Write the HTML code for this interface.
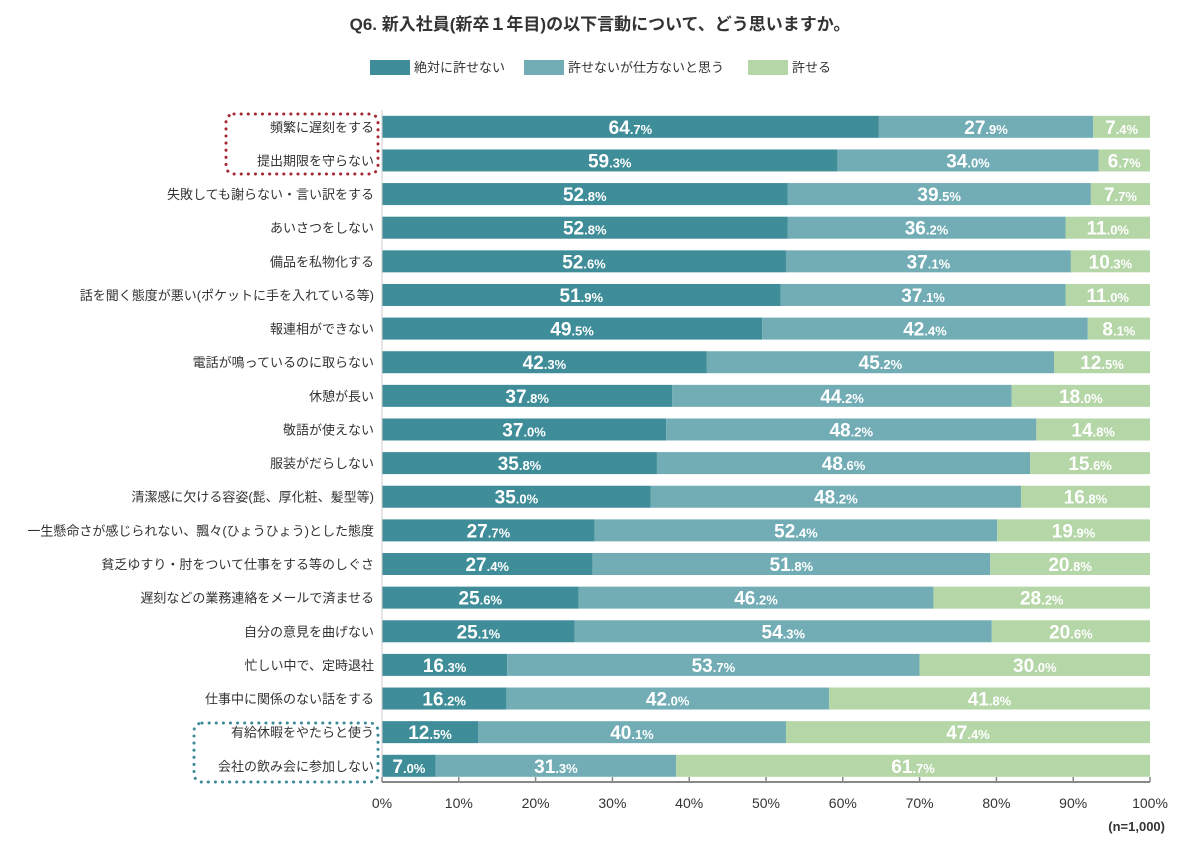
<!DOCTYPE html>
<html><head><meta charset="utf-8"><style>
body{margin:0;background:#fff;font-family:"Liberation Sans","Noto Sans CJK JP",sans-serif;}
svg text{font-family:"Liberation Sans","Noto Sans CJK JP",sans-serif;}
</style></head><body>
<svg id="chart" width="1200" height="850">
<text x="600" y="30" text-anchor="middle" font-size="17" font-weight="bold" fill="#333">Q6. 新入社員(新卒１年目)の以下言動について、どう思いますか。</text>
<g>
<rect x="370" y="60" width="40" height="15" fill="#3f8d99"/>
<text x="414" y="72" font-size="13" fill="#333">絶対に許せない</text>
<rect x="524" y="60" width="40" height="15" fill="#72adb6"/>
<text x="568" y="72" font-size="13" fill="#333">許せないが仕方ないと思う</text>
<rect x="748" y="60" width="40" height="15" fill="#b5d6a7"/>
<text x="792" y="72" font-size="13" fill="#333">許せる</text>
</g>
<rect x="226" y="114" width="152" height="60" rx="8" fill="none" stroke="#a3282f" stroke-width="3" stroke-dasharray="0.1 7" stroke-linecap="round"/>
<rect x="194" y="723" width="184" height="59" rx="8" fill="none" stroke="#3a8a98" stroke-width="3" stroke-dasharray="0.1 7" stroke-linecap="round"/>
<g id="plot"></g>
<text x="1165" y="831" text-anchor="end" font-size="13" font-weight="bold" fill="#333">(n=1,000)</text>
</svg>
<script>
const categories=["頻繁に遅刻をする","提出期限を守らない","失敗しても謝らない・言い訳をする","あいさつをしない","備品を私物化する","話を聞く態度が悪い(ポケットに手を入れている等)","報連相ができない","電話が鳴っているのに取らない","休憩が長い","敬語が使えない","服装がだらしない","清潔感に欠ける容姿(髭、厚化粧、髪型等)","一生懸命さが感じられない、飄々(ひょうひょう)とした態度","貧乏ゆすり・肘をついて仕事をする等のしぐさ","遅刻などの業務連絡をメールで済ませる","自分の意見を曲げない","忙しい中で、定時退社","仕事中に関係のない話をする","有給休暇をやたらと使う","会社の飲み会に参加しない"];
const neverVals=[64.7,59.3,52.8,52.8,52.6,51.9,49.5,42.3,37.8,37.0,35.8,35.0,27.7,27.4,25.6,25.1,16.3,16.2,12.5,7.0];
const unavoidableVals=[27.9,34.0,39.5,36.2,37.1,37.1,42.4,45.2,44.2,48.2,48.6,48.2,52.4,51.8,46.2,54.3,53.7,42.0,40.1,31.3];
const okVals=[7.4,6.7,7.7,11.0,10.3,11.0,8.1,12.5,18.0,14.8,15.6,16.8,19.9,20.8,28.2,20.6,30.0,41.8,47.4,61.7];
const tickLabels=["0%","10%","20%","30%","40%","50%","60%","70%","80%","90%","100%"];
const tickValues=[0,10,20,30,40,50,60,70,80,90,100];
const NS="http://www.w3.org/2000/svg";
const g=document.getElementById('plot');
const x0=382,x1=1150,yTop=110,pitch=33.63,bh=22,axisY=782;
const xs=v=>x0+(x1-x0)*v/100;
const ys=i=>yTop+pitch*i+(pitch-bh)/2;
function mk(t,a){const e=document.createElementNS(NS,t);for(const k in a)e.setAttribute(k,a[k]);g.appendChild(e);return e;}
const series=[[neverVals,"#3f8d99","never"],[unavoidableVals,"#72adb6","unavoidable"],[okVals,"#b5d6a7","ok"]];
categories.forEach((c,i)=>{
  const y=ys(i);
  const t=mk('text',{x:374,y:y+bh/2+5,'text-anchor':'end','font-size':13,fill:'#333'});
  t.textContent=c;
  
  
  let acc=0;
  series.forEach(([arr,col,nm])=>{
    const v=arr[i];
    const r=mk('rect',{x:xs(acc),y:y,width:xs(acc+v)-xs(acc),height:bh,fill:col});
    
    
    const cx=(xs(acc)+xs(acc+v))/2;
    const s=v.toFixed(1).split('.');
    const lt=mk('text',{x:cx,y:y+bh/2+7,'text-anchor':'middle',fill:'#fff','font-weight':'bold'});
    
    
    const a=document.createElementNS(NS,'tspan');a.setAttribute('font-size','19');a.textContent=s[0];lt.appendChild(a);
    const b=document.createElementNS(NS,'tspan');b.setAttribute('font-size','13');b.textContent='.'+s[1]+'%';lt.appendChild(b);
    acc+=v;
  });
});
const ax=mk('line',{x1:x0,x2:x1,y1:axisY,y2:axisY,stroke:'#888','stroke-width':2});


const vl=mk('line',{x1:x0,x2:x0,y1:yTop,y2:axisY,stroke:'#ccc','stroke-width':1});


tickValues.forEach((v,k)=>{
  const tk=mk('line',{x1:xs(v),x2:xs(v),y1:axisY-5,y2:axisY,stroke:'#888','stroke-width':1.5});
  
  
  const tl=mk('text',{x:xs(v),y:axisY+26,'text-anchor':'middle','font-size':14,fill:'#333'});
  tl.textContent=tickLabels[k];
  
  
});
</script>
</body></html>
